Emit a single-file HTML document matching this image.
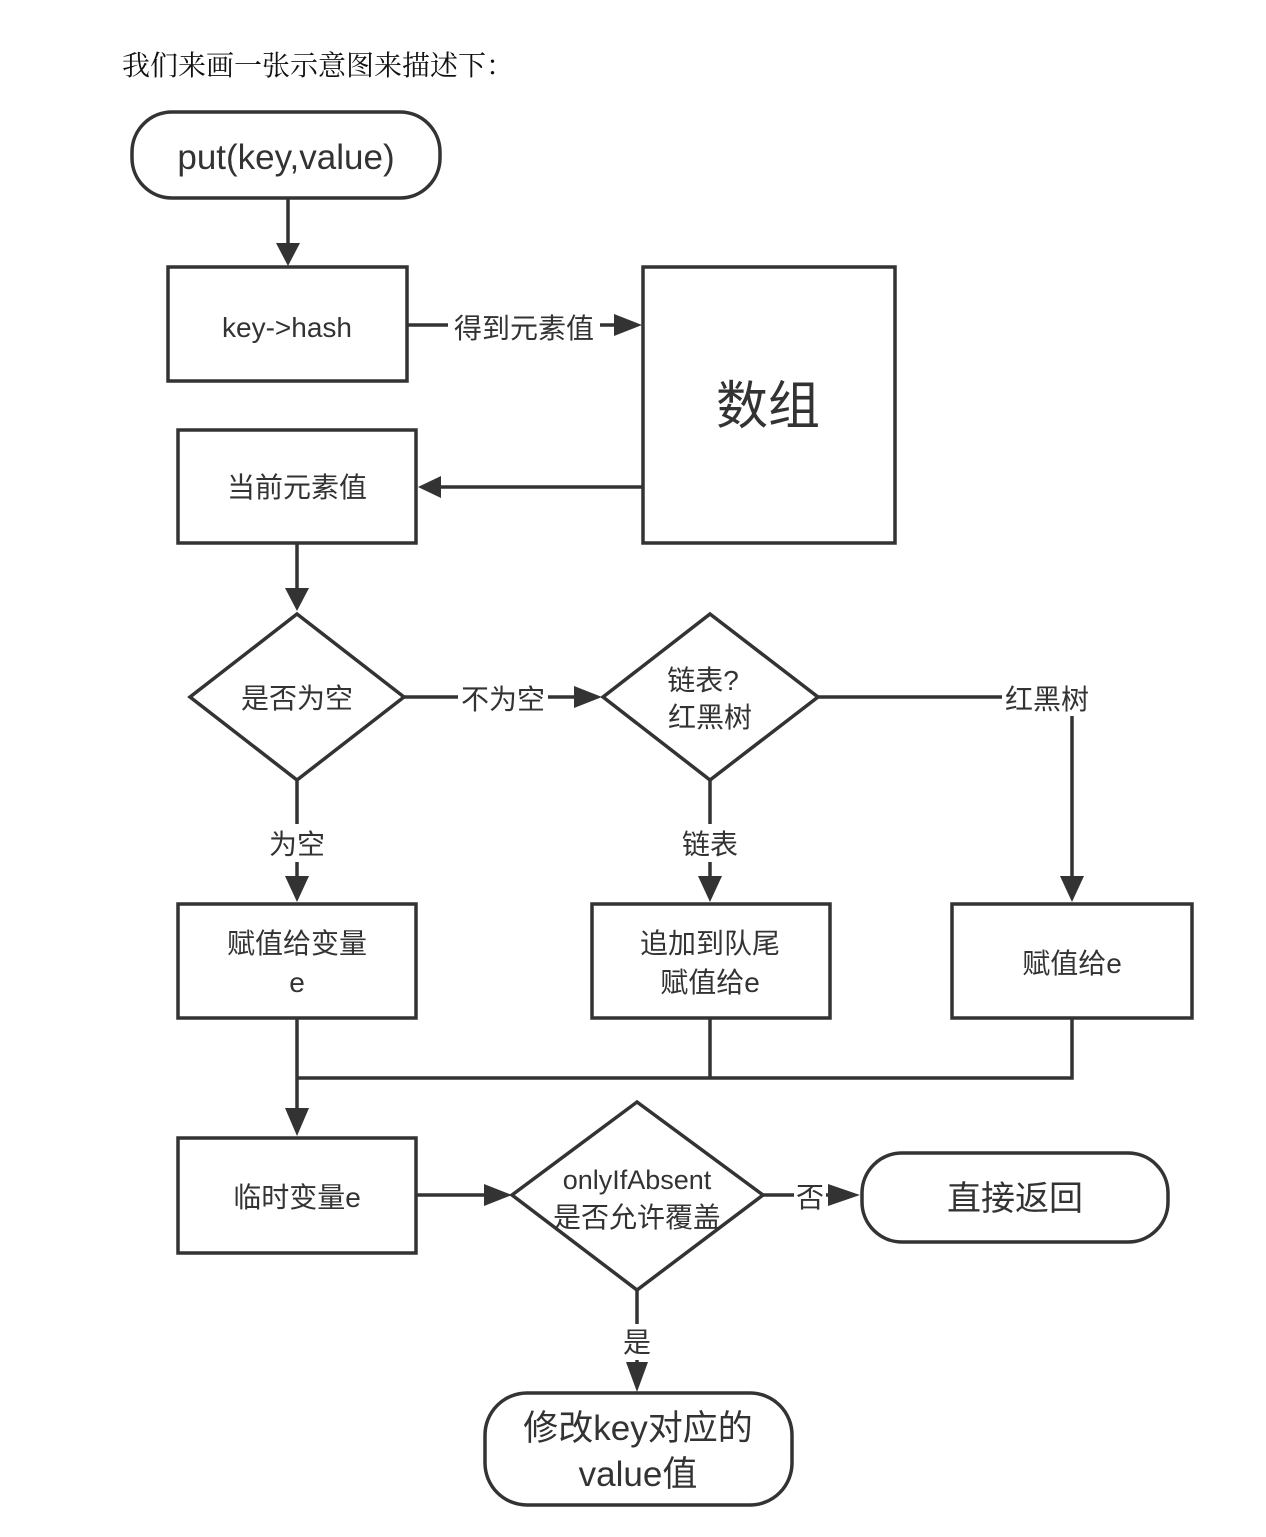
<!DOCTYPE html>
<html><head><meta charset="utf-8"><style>
html,body{margin:0;padding:0;background:#fff;width:1266px;height:1537px;overflow:hidden}
text{font-family:"Liberation Sans","Noto Sans CJK SC",sans-serif;fill:#333}
</style></head><body>
<svg width="1266" height="1537" viewBox="0 0 1266 1537" xmlns="http://www.w3.org/2000/svg">
<style>.s{fill:none;stroke:#333;stroke-width:3.5}.b{fill:#fff;stroke:#333;stroke-width:3.5}
.ar{fill:#333}</style>
<text x="122" y="75" style="font-family:'Liberation Serif','Noto Serif CJK SC',serif;font-size:28px;fill:#111">我们来画一张示意图来描述下：</text>

<rect class="b" x="132" y="112" width="308" height="86" rx="40"/>
<text x="286" y="169" font-size="35" text-anchor="middle">put(key,value)</text>
<line class="s" x1="288" y1="198" x2="288" y2="245"/><path class="ar" d="M276,243 L300,243 L288,266 z"/>

<rect class="b" x="168" y="267" width="239" height="114"/>
<text x="287" y="337" font-size="28" text-anchor="middle">key-&gt;hash</text>
<line class="s" x1="407" y1="325" x2="620" y2="325"/><path class="ar" d="M614,314 L614,336 L642,325 z"/>
<rect x="448" y="308" width="152" height="36" fill="#fff"/>
<text x="524" y="338" font-size="28" text-anchor="middle">得到元素值</text>

<rect class="b" x="643" y="267" width="252" height="276"/>
<text x="768" y="424" font-size="52" text-anchor="middle">数组</text>
<line class="s" x1="643" y1="487" x2="438" y2="487"/><path class="ar" d="M441,476 L441,498 L418,487 z"/>

<rect class="b" x="178" y="430" width="238" height="113"/>
<text x="297" y="497" font-size="28" text-anchor="middle">当前元素值</text>
<line class="s" x1="297" y1="543" x2="297" y2="590"/><path class="ar" d="M285,588 L309,588 L297,611 z"/>

<polygon class="b" points="297,614 404,697 297,780 190,697"/>
<text x="297" y="708" font-size="28" text-anchor="middle">是否为空</text>
<line class="s" x1="404" y1="697" x2="580" y2="697"/><path class="ar" d="M574,686 L574,708 L602,697 z"/>
<rect x="458" y="680" width="90" height="36" fill="#fff"/>
<text x="503" y="709" font-size="28" text-anchor="middle">不为空</text>

<polygon class="b" points="710,614 818,697 710,780 603,697"/>
<text x="703" y="690" font-size="28" text-anchor="middle">链表?</text>
<text x="710" y="727" font-size="28" text-anchor="middle">红黑树</text>
<polyline class="s" points="818,697 1072,697 1072,880"/><path class="ar" d="M1060,876 L1084,876 L1072,902 z"/>
<rect x="1002" y="680" width="90" height="36" fill="#fff"/>
<text x="1047" y="709" font-size="28" text-anchor="middle">红黑树</text>

<line class="s" x1="297" y1="780" x2="297" y2="880"/><path class="ar" d="M285,876 L309,876 L297,902 z"/>
<rect x="264" y="824" width="66" height="38" fill="#fff"/>
<text x="297" y="854" font-size="28" text-anchor="middle">为空</text>
<line class="s" x1="710" y1="780" x2="710" y2="880"/><path class="ar" d="M698,876 L722,876 L710,902 z"/>
<rect x="677" y="824" width="66" height="38" fill="#fff"/>
<text x="710" y="854" font-size="28" text-anchor="middle">链表</text>

<rect class="b" x="178" y="904" width="238" height="114"/>
<text x="297" y="953" font-size="28" text-anchor="middle">赋值给变量</text>
<text x="297" y="992" font-size="28" text-anchor="middle">e</text>
<rect class="b" x="592" y="904" width="238" height="114"/>
<text x="710" y="953" font-size="28" text-anchor="middle">追加到队尾</text>
<text x="710" y="992" font-size="28" text-anchor="middle">赋值给e</text>
<rect class="b" x="952" y="904" width="240" height="114"/>
<text x="1072" y="973" font-size="28" text-anchor="middle">赋值给e</text>

<line class="s" x1="297" y1="1018" x2="297" y2="1112"/><path class="ar" d="M285,1108 L309,1108 L297,1136 z"/>
<polyline class="s" points="710,1018 710,1078"/>
<polyline class="s" points="1072,1018 1072,1078 297,1078"/>

<rect class="b" x="178" y="1138" width="238" height="115"/>
<text x="297" y="1207" font-size="28" text-anchor="middle">临时变量e</text>
<line class="s" x1="416" y1="1195" x2="490" y2="1195"/><path class="ar" d="M484,1184 L484,1206 L512,1195 z"/>

<polygon class="b" points="637,1102 763,1195 637,1290 512,1195"/>
<text x="637" y="1189" font-size="27" text-anchor="middle">onlyIfAbsent</text>
<text x="637" y="1227" font-size="28" text-anchor="middle">是否允许覆盖</text>
<line class="s" x1="763" y1="1195" x2="840" y2="1195"/><path class="ar" d="M828,1184 L828,1206 L860,1195 z"/>
<rect x="794" y="1178" width="32" height="36" fill="#fff"/>
<text x="810" y="1207" font-size="28" text-anchor="middle">否</text>
<rect class="b" x="862" y="1153" width="306" height="89" rx="40"/>
<text x="1015" y="1210" font-size="34" text-anchor="middle">直接返回</text>

<line class="s" x1="637" y1="1290" x2="637" y2="1370"/>
<rect x="618" y="1324" width="38" height="36" fill="#fff"/>
<text x="637" y="1352" font-size="28" text-anchor="middle">是</text>
<path class="ar" d="M626,1362 L648,1362 L637,1392 z"/>

<rect class="b" x="485" y="1393" width="307" height="112" rx="42"/>
<text x="638" y="1440" font-size="35" text-anchor="middle">修改key对应的</text>
<text x="638" y="1486" font-size="35" text-anchor="middle">value值</text>
</svg>
</body></html>
